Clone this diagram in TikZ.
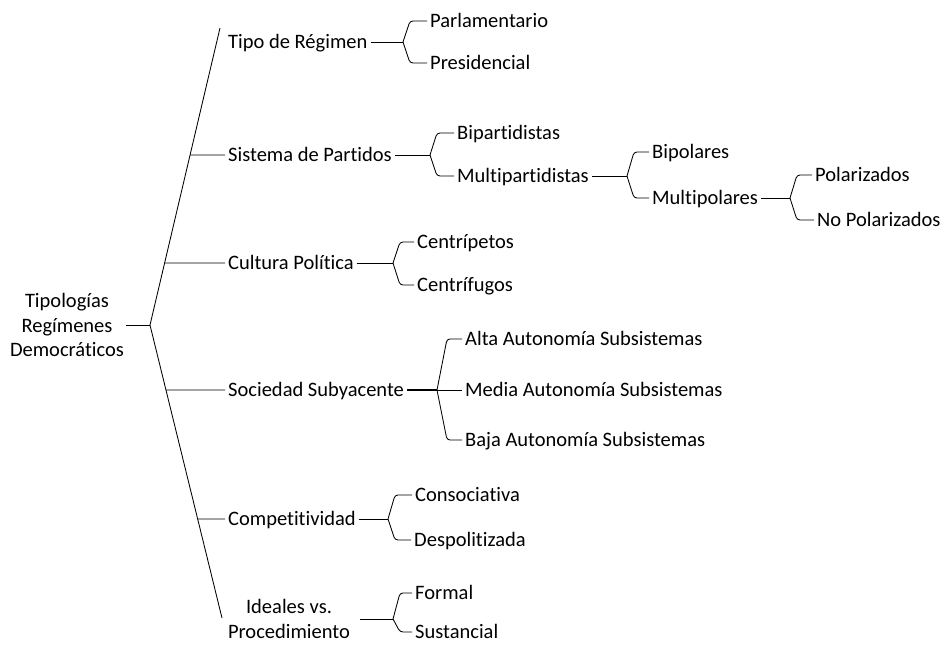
\documentclass[tikz,border=0pt]{standalone}
\usepackage{fontspec}
\setmainfont[Ligatures={NoCommon}]{Carlito}
\usetikzlibrary{calc}
\tikzset{
  lbl/.style={anchor=west, inner xsep=3pt, inner ysep=0pt, text height=13.2pt, text depth=0pt, font=\fontsize{20.5}{24.5}\selectfont},
  mlbl/.style={anchor=center, align=center, inner sep=2pt, font=\fontsize{20.5}{24.5}\selectfont},
  conn/.style={line width=0.85pt, black},
  arm/.style={conn, rounded corners=3pt},
}
\begin{document}
\begin{tikzpicture}[x=1pt,y=-1pt]
\useasboundingbox (0,0) rectangle (943,646);
% nodes
\node[mlbl] (root) at (67,325) {Tipologías\\Regímenes\\Democráticos};
\node[lbl] (tipo) at (225,42) {Tipo de Régimen};
\node[lbl] (sis) at (225,155) {Sistema de Partidos};
\node[lbl] (cul) at (225,263) {Cultura Política};
\node[lbl] (soc) at (225,390) {Sociedad Subyacente};
\node[lbl] (com) at (225,519) {Competitividad};
\node[mlbl] (ide) at (289,619) {Ideales vs.\\Procedimiento};

\node[lbl] (par) at (427,21) {Parlamentario};
\node[lbl] (pre) at (427,63) {Presidencial};
\node[lbl] (bip) at (454,133) {Bipartidistas};
\node[lbl] (mul) at (454,176) {Multipartidistas};
\node[lbl] (bpo) at (649,152) {Bipolares};
\node[lbl] (mpo) at (649,198) {Multipolares};
\node[lbl] (pol) at (812,175) {Polarizados};
\node[lbl] (npo) at (814,220) {No Polarizados};
\node[lbl] (cpe) at (414,242) {Centrípetos};
\node[lbl] (cfu) at (414,285) {Centrífugos};
\node[lbl] (alta) at (462,339) {Alta Autonomía Subsistemas};
\node[lbl] (media) at (462,390) {Media Autonomía Subsistemas};
\node[lbl] (baja) at (462,440) {Baja Autonomía Subsistemas};
\node[lbl] (cons) at (412,495) {Consociativa};
\node[lbl] (desp) at (411,540) {Despolitizada};
\node[lbl] (form) at (412,593) {Formal};
\node[lbl] (sust) at (412,632) {Sustancial};

% big bracket
\coordinate (bt) at (150,325);
\coordinate (btop) at (220,28);
\coordinate (bbot) at (222,618);
\draw[conn] (root.east) -- (bt);
\draw[conn] (btop) -- (bt) -- (bbot);
\coordinate (b2) at ($(bt)!0.5724!(btop)$);
\coordinate (b3) at ($(bt)!0.2088!(btop)$);
\coordinate (b4) at ($(bt)!0.2218!(bbot)$);
\coordinate (b5) at ($(bt)!0.6621!(bbot)$);
\draw[conn] (b2) -- (sis.west);
\draw[conn] (b3) -- (cul.west);
\draw[conn] (b4) -- (soc.west);
\draw[conn] (b5) -- (com.west);

% tips
\coordinate (t1) at (403,42);
\coordinate (t2) at (430,155);
\coordinate (t3) at (627,176);
\coordinate (t4) at (790,198);
\coordinate (t5) at (393,263);
\coordinate (t6) at (437,390);
\coordinate (t7) at (388,519);
\coordinate (t8) at (ide.east -| 393,0);

\draw[conn] (tipo.east) -- (t1);
\draw[conn] (sis.east) -- (t2);
\draw[conn] (mul.east) -- (t3);
\draw[conn] (mpo.east) -- (t4);
\draw[conn] (cul.east) -- (t5);
\draw[conn, line width=1.6pt] (soc.east) -- (t6);
\draw[conn] (com.east) -- (t7);
\draw[conn] ([xshift=8pt]ide.east) -- (t8);

\draw[arm] (t1) -- ($(t1 |- par.west)+(7,0)$) -- (par.west);
\draw[arm] (t1) -- ($(t1 |- pre.west)+(7,0)$) -- (pre.west);
\draw[arm] (t2) -- ($(t2 |- bip.west)+(7,0)$) -- (bip.west);
\draw[arm] (t2) -- ($(t2 |- mul.west)+(7,0)$) -- (mul.west);
\draw[arm] (t3) -- ($(t3 |- bpo.west)+(7,0)$) -- (bpo.west);
\draw[arm] (t3) -- ($(t3 |- mpo.west)+(7,0)$) -- (mpo.west);
\draw[arm] (t4) -- ($(t4 |- pol.west)+(7,0)$) -- (pol.west);
\draw[arm] (t4) -- ($(t4 |- npo.west)+(7,0)$) -- (npo.west);
\draw[arm] (t5) -- ($(t5 |- cpe.west)+(7,0)$) -- (cpe.west);
\draw[arm] (t5) -- ($(t5 |- cfu.west)+(7,0)$) -- (cfu.west);
\draw[arm] (t6) -- ($(t6 |- alta.west)+(10,0)$) -- (alta.west);
\draw[conn] (t6) -- (media.west);
\draw[arm] (t6) -- ($(t6 |- baja.west)+(10,0)$) -- (baja.west);
\draw[arm] (t7) -- ($(t7 |- cons.west)+(7,0)$) -- (cons.west);
\draw[arm] (t7) -- ($(t7 |- desp.west)+(7,0)$) -- (desp.west);
\draw[arm] (t8) -- ($(t8 |- form.west)+(7,0)$) -- (form.west);
\draw[arm] (t8) -- ($(t8 |- sust.west)+(7,0)$) -- (sust.west);
\end{tikzpicture}
\end{document}
